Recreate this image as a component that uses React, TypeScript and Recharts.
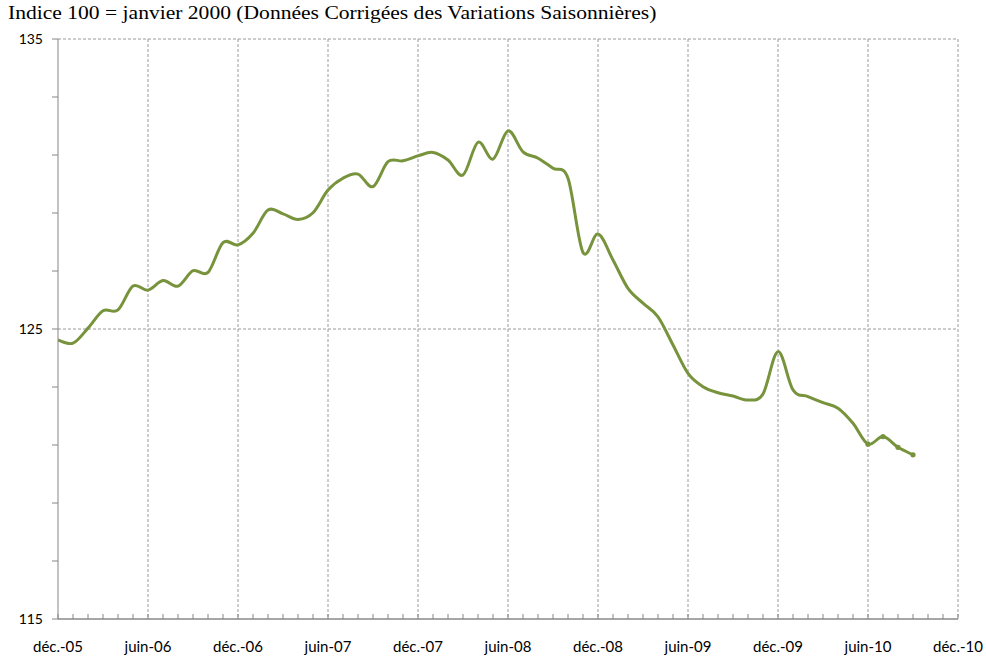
import React from 'react';
import { LineChart, Line, XAxis, YAxis, CartesianGrid } from 'recharts';

// Monthly index, base 100 = janvier 2000, from déc. 2005 to sept. 2010
const indexValues = [
  124.62, 124.51, 125.03, 125.63, 125.66, 126.48, 126.34, 126.67, 126.48, 127.01,
  126.95, 127.98, 127.9, 128.3, 129.1, 128.97, 128.78, 129.01, 129.79, 130.2,
  130.34, 129.91, 130.77, 130.8, 130.97, 131.09, 130.83, 130.31, 131.44, 130.86,
  131.83, 131.11, 130.89, 130.54, 130.2, 127.64, 128.28, 127.38, 126.4, 125.89,
  125.42, 124.45, 123.47, 123.01, 122.8, 122.69, 122.55, 122.76, 124.22, 122.9,
  122.67, 122.46, 122.27, 121.75, 121.03, 121.29, 120.92, 120.66,
];

// provisional points drawn with a marker
const markedFrom = 54;

const axisLabels = [
  'déc.-05', 'juin-06', 'déc.-06', 'juin-07', 'déc.-07', 'juin-08',
  'déc.-08', 'juin-09', 'déc.-09', 'juin-10', 'déc.-10',
];

const yTicks = [115, 117, 119, 121, 123, 125, 127, 129, 131, 133, 135];
const yLabelled = [115, 125, 135];

const monthCount = (axisLabels.length - 1) * 6;
const xTicks = Array.from({ length: monthCount + 1 }, (_, i) => i);
const xGrid = xTicks.filter((i) => i > 0 && i % 6 === 0);

const data = indexValues.map((v, i) => ({ m: i, v }));

// Excel-like smoothed line (Catmull-Rom through the points)
const smoothCurve = (context: any) => {
  let pts: [number, number][] = [];
  return {
    areaStart() {},
    areaEnd() {},
    lineStart() {
      pts = [];
    },
    point(x: number, y: number) {
      pts.push([+x, +y]);
    },
    lineEnd() {
      if (!pts.length) return;
      context.moveTo(pts[0][0], pts[0][1]);
      for (let i = 0; i < pts.length - 1; i++) {
        const p0 = pts[i - 1] || pts[i];
        const p1 = pts[i];
        const p2 = pts[i + 1];
        const p3 = pts[i + 2] || p2;
        context.bezierCurveTo(
          p1[0] + (p2[0] - p0[0]) / 6,
          p1[1] + (p2[1] - p0[1]) / 6,
          p2[0] - (p3[0] - p1[0]) / 6,
          p2[1] - (p3[1] - p1[1]) / 6,
          p2[0],
          p2[1]
        );
      }
    },
  };
};

const MonthTick = (props: any) => {
  const { x, y, payload } = props;
  const i = payload.value;
  return (
    <g>
      <line x1={x} x2={x} y1={y} y2={y - 5} stroke="#868686" strokeWidth={1} />
      {i % 6 === 0 && (
        <text
          x={x}
          y={y + 33}
          textAnchor="middle"
          fontSize={15}
          fontFamily="Lato, 'Liberation Sans', sans-serif"
          fill="#000"
        >
          {axisLabels[i / 6]}
        </text>
      )}
    </g>
  );
};

const LastDots = (props: any) => {
  const { cx, cy, index } = props;
  if (index < markedFrom) return <g key={`d${index}`} />;
  return <circle key={`d${index}`} cx={cx} cy={cy} r={2.6} fill="#77933C" />;
};

export default function App() {
  return (
    <div style={{ position: 'absolute', left: 0, top: 0, width: 986, height: 656, background: '#fff' }}>
      <div
        style={{
          position: 'absolute',
          left: 8,
          top: 2,
          fontFamily: "'Liberation Serif', 'Times New Roman', serif",
          fontSize: 19,
          color: '#000',
          whiteSpace: 'nowrap',
          transform: 'scaleX(1.135)',
          transformOrigin: 'left top',
        }}
      >
        Indice 100 = janvier 2000 (Données Corrigées des Variations Saisonnières)
      </div>
      <LineChart
        width={986}
        height={656}
        data={data}
        margin={{ top: 39, right: 28, left: 8, bottom: 7 }}
      >
        <CartesianGrid
          stroke="#9a9a9a"
          strokeDasharray="3 2"
          horizontalValues={[125, 135]}
          verticalValues={xGrid}
        />
        <XAxis
          dataKey="m"
          type="number"
          domain={[0, monthCount]}
          ticks={xTicks}
          interval={0}
          tickLine={false}
          tickSize={0}
          tickMargin={0}
          height={30}
          axisLine={{ stroke: '#a6a6a6', strokeWidth: 2 }}
          tick={<MonthTick />}
        />
        <YAxis
          type="number"
          domain={[115, 135]}
          ticks={yTicks}
          interval={0}
          width={50}
          tickSize={6}
          tickMargin={9}
          axisLine={{ stroke: '#868686' }}
          tickLine={{ stroke: '#868686' }}
          tickFormatter={(v: number) => (yLabelled.includes(v) ? String(v) : '')}
          tick={{ fill: '#000', fontSize: 14, fontFamily: "Lato, 'Liberation Sans', sans-serif" }}
        />
        <Line
          dataKey="v"
          type={smoothCurve as any}
          stroke="#77933C"
          strokeWidth={3}
          dot={LastDots}
          activeDot={false}
          isAnimationActive={false}
        />
      </LineChart>
    </div>
  );
}
